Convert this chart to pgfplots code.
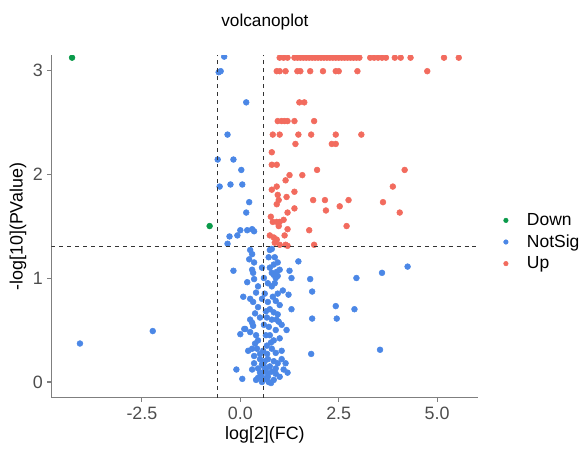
\documentclass[border=0pt]{standalone}
\usepackage{pgfplots}
\pgfplotsset{compat=1.18}
\usepackage{fontspec}
\setmainfont{Liberation Sans}
\definecolor{cDown}{HTML}{0A9A4A}
\definecolor{cNot}{HTML}{4B87E6}
\definecolor{cUp}{HTML}{F26B5E}
\definecolor{axgray}{HTML}{7F7F7F}
\definecolor{txtgray}{HTML}{4D4D4D}
\begin{document}
\begin{tikzpicture}
\begin{axis}[
    width=322.5pt, height=258.75pt,
    scale only axis,
    xmin=-4.8, xmax=6.05,
    ymin=-0.153, ymax=3.143,
    axis x line*=bottom,
    axis y line*=left,
    axis line style={axgray, line width=0.9pt},
    tick align=outside,
    major tick length=3pt,
    tick style={axgray, line width=0.8pt},
    xtick={-2.5,0,2.5,5},
    ytick={0,1,2,3},
    xticklabel style={/pgf/number format/.cd, fixed, fixed zerofill, precision=1},
    /pgf/number format/assume math mode=true,
    ticklabel style={font=\fontsize{13.5}{15}\selectfont, text=txtgray},
    xlabel={log[2](FC)},
    ylabel={-log[10](PValue)},
    label style={font=\fontsize{13.5}{15}\selectfont},
    xlabel style={yshift=1pt},
    ylabel style={yshift=-2pt},
    title={volcanoplot},
    title style={font=\fontsize{13}{15}\selectfont, at={(0.5,1)}, anchor=base, yshift=16pt},
    clip marker paths=true,
    legend style={draw=none, at={(1.045,0.455)}, anchor=west,
        font=\fontsize{13.2}{15}\selectfont, row sep=1.5pt,
        legend cell align=left},
    legend image code/.code={\path (0,0) (0.58cm,0); \fill (0.1cm,0cm) circle (1.7pt);},
]
% Down
\addplot[only marks, mark=*, mark size=2.2pt, color=cDown] coordinates {
(-4.275,3.12) (-0.78,1.50)
};
\addlegendentry{Down}
% NotSig
\addplot[only marks, mark=*, mark size=2.2pt, color=cNot] coordinates {
(-4.075,0.37) (-2.225,0.49) (-0.41,3.13) (-0.5,2.99) (-0.55,2.98) (0.15,2.69)
(-0.325,2.38) (-0.575,2.14) (-0.175,2.14) (0.025,2.04) (-0.525,1.88) (-0.25,1.90)
(0.05,1.90) (0.225,1.73) (0.15,1.63) (0,1.46) (0.175,1.46) (0.3,1.47) (0.35,1.45)
(-0.275,1.40) (-0.075,1.41) (-0.325,1.33)
(1.475,1.16) (2.95,1.00) (3.6,1.05) (4.25,1.11) (1.775,0.99) (1.825,0.87)
(2.425,0.73) (2.9,0.70) (2.45,0.61) (1.825,0.61) (3.55,0.31) (1.8,0.27)
(1.3,0.70) (1.225,0.84) (1.175,0.50) (1.2,0.09) (1.25,1.07) (1.3,1.00)
(-0.175,1.07) (0.175,0.96) (0.1,0.51) (0,0.46) (-0.1,0.12) (0.05,0.03)
(0.25,1.27) (0.3,1.23) (0.225,1.18) (0.3,1.08) (0.325,1.05) (0.35,0.99)
(0.075,0.82) (0.25,0.80) (0.325,0.77) (0.45,0.72) (0.375,0.66) (0.3,0.57)
(0.325,0.54) (0.125,0.51) (0.25,0.48) (0.375,0.37) (0.45,0.40) (0.3,0.32)
(0.425,0.32) (0.35,0.18) (0.5,0.22) (0.55,0.17) (0.45,0.13) (0.5,0.09)
(0.55,0.05) (0.45,0.04) (0.55,0.00) (0.5,0.27) (0.25,0.60) (0.4,0.86)
(0.45,0.92) (0.35,1.15) (0.4,0.45) (0.2,0.30) (0.3,0.12) (0.4,0.02)
(0.75,1.27) (0.8,1.28) (0.875,1.20) (0.75,1.10) (0.95,1.15) (0.8,1.05)
(0.85,1.03) (0.9,1.00) (0.925,1.06) (0.95,1.02) (1.0,1.08) (0.875,0.95)
(0.8,0.92) (0.7,0.95) (0.95,0.85) (0.825,0.82) (0.9,0.78) (1.0,0.74)
(0.7,0.77) (0.75,0.70) (0.85,0.67) (0.95,0.65) (0.675,0.62) (0.8,0.60)
(0.975,0.58) (1.05,0.55) (0.725,0.53) (0.9,0.50) (0.75,0.45) (0.85,0.40)
(1.0,0.42) (0.675,0.35) (0.8,0.32) (0.9,0.28) (0.7,0.22) (0.85,0.20)
(0.95,0.18) (0.75,0.15) (0.65,0.12) (0.8,0.10) (0.9,0.08) (0.7,0.05)
(0.85,0.02) (1.0,0.05) (1.1,0.12) (1.15,0.18) (1.05,0.30) (0.6,0.10)
(0.62,0.20) (0.58,0.30) (0.65,0.45) (0.6,0.55) (0.62,0.85) (0.6,1.00)
(0.55,1.10) (0.65,0.68) (0.65,0.03) (0.72,0.00) (0.6,0.15) (0.7,0.08)
(0.78,-0.01) (0.9,0.13) (1.05,0.22) (0.68,0.27) (0.78,0.38) (0.92,0.60)
(1.08,0.88) (0.85,1.13) (0.72,1.20) (0.55,0.80) (0.5,0.62) (0.35,0.25)
};
\addlegendentry{NotSig}
% Up
\addplot[only marks, mark=*, mark size=2.2pt, color=cUp] coordinates {
(1.0,3.12) (1.1,3.12) (1.2,3.12) (1.375,3.12) (1.45,3.12) (1.525,3.12)
(1.6,3.12) (1.675,3.12) (1.75,3.12) (1.825,3.12) (1.9,3.12) (1.975,3.12)
(2.05,3.12) (2.125,3.12) (2.2,3.12) (2.275,3.12) (2.35,3.12) (2.425,3.12)
(2.5,3.12) (2.575,3.12) (2.65,3.12) (2.725,3.12) (2.8,3.12) (2.875,3.12)
(2.95,3.12) (3.025,3.12) (3.3,3.12) (3.4,3.12) (3.5,3.12) (3.6,3.12)
(3.7,3.12) (3.925,3.12) (4.075,3.12) (4.325,3.12) (5.175,3.12) (5.55,3.12)
(0.925,2.99) (1.0,2.99) (1.15,2.99) (1.45,2.99) (1.525,2.99) (1.775,2.99)
(2.1,2.99) (2.425,2.99) (2.5,2.99) (2.975,2.99) (4.75,2.99)
(1.5,2.69) (1.625,2.69)
(0.95,2.51) (1.05,2.51) (1.125,2.51) (1.2,2.51) (1.375,2.51) (1.875,2.51)
(0.825,2.38) (1.0,2.38) (1.475,2.38) (1.8,2.38) (2.425,2.38) (3.075,2.38)
(1.4,2.29) (2.325,2.29) (2.425,2.29)
(0.8,2.21) (0.8,2.09) (0.925,2.09) (1.25,1.99) (1.15,1.94) (1.575,1.99)
(1.95,2.04) (4.175,2.04) (0.8,1.85) (0.925,1.88) (3.875,1.88) (0.95,1.80)
(0.975,1.75) (0.925,1.71) (1.175,1.78) (1.375,1.83) (1.85,1.75) (2.15,1.75)
(2.525,1.69) (2.75,1.75) (3.625,1.73) (2.175,1.65) (4.05,1.63) (1.2,1.63)
(1.375,1.67) (0.775,1.59) (0.825,1.54) (0.925,1.54) (1.0,1.54) (1.1,1.56)
(0.975,1.50) (1.2,1.47) (1.75,1.46) (2.7,1.50) (0.75,1.41) (0.85,1.39)
(0.925,1.37) (0.875,1.34) (1.125,1.41) (1.0,1.32) (1.15,1.32) (1.2,1.31)
(1.875,1.32)
};
\addlegendentry{Up}
% thresholds
\addplot[black!80, dashed, line width=0.8pt, forget plot] coordinates {(-0.585,-0.153) (-0.585,3.143)};
\addplot[black!80, dashed, line width=0.8pt, forget plot] coordinates {(0.585,-0.153) (0.585,3.143)};
\addplot[black!80, dashed, line width=0.8pt, forget plot] coordinates {(-4.8,1.301) (6.05,1.301)};
\end{axis}
% extra blank margin above and at the left, as in the reference
\path (current bounding box.north west) ++(-4pt,7pt);
\end{tikzpicture}
\end{document}
